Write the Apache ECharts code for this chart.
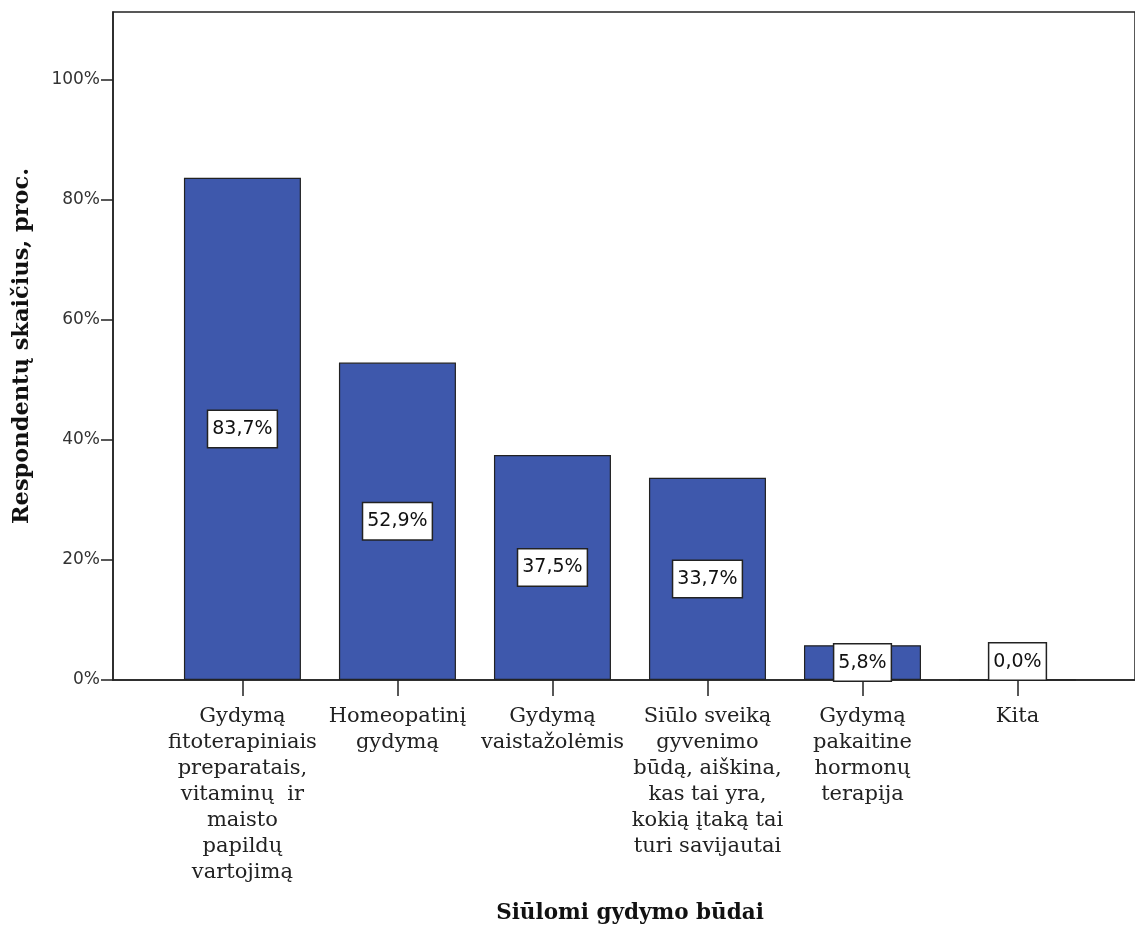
<!DOCTYPE html>
<html>
<head>
<meta charset="utf-8">
<script src="https://cdn.jsdelivr.net/npm/echarts@6/dist/echarts.min.js"></script>
<style>
html,body{margin:0;padding:0;background:#fff;}
#chart{width:1135px;height:930px;}
</style>
</head>
<body>
<div id="chart"></div>
<script>
const categories = [
  "Gydymą\nfitoterapiniais\npreparatais,\nvitaminų  ir\nmaisto\npapildų\nvartojimą",
  "Homeopatinį\ngydymą",
  "Gydymą\nvaistažolėmis",
  "Siūlo sveiką\ngyvenimo\nbūdą, aiškina,\nkas tai yra,\nkokią įtaką tai\nturi savijautai",
  "Gydymą\npakaitine\nhormonų\nterapija",
  "Kita"
];
const values = [83.7, 52.9, 37.5, 33.7, 5.8, 0.0];
const yTicks = [0, 20, 40, 60, 80, 100];
const yTitle = "Respondentų skaičius, proc.";
const xTitle = "Siūlomi gydymo būdai";

const xIdx = categories.map((c, i) => i);
const chart = echarts.init(document.getElementById('chart'), null, {renderer: 'canvas'});
const data = values.map((v, i) => ({
  value: [i, v],
  label: v === 0 ? {position: 'top', distance: 0} : {position: 'inside'}
}));

chart.setOption({
  animation: false,
  backgroundColor: '#fff',
  grid: {
    left: 113, top: 12, right: -2, bottom: 250,
    show: true, borderColor: '#222', borderWidth: 1.5, backgroundColor: '#fff'
  },
  xAxis: {
    type: 'value',
    min: -0.835, max: 5.758,
    splitLine: {show: false},
    axisLine: {show: true, onZero: false, lineStyle: {color: '#222', width: 1.5}},
    axisTick: {show: true, length: 16, inside: false, customValues: xIdx, lineStyle: {color: '#222', width: 1.5}},
    axisLabel: {
      customValues: xIdx,
      margin: 24,
      formatter: v => categories[Math.round(v)],
      fontFamily: 'DejaVu Serif', fontSize: 21, lineHeight: 26,
      color: '#222', align: 'center', verticalAlign: 'top'
    },
    name: xTitle,
    nameLocation: 'middle',
    nameGap: 222,
    nameTextStyle: {fontFamily: 'DejaVu Serif', fontWeight: 'bold', fontSize: 21.5, color: '#111', verticalAlign: 'top', padding: [0, 0, 0, 12]}
  },
  yAxis: {
    type: 'value',
    min: 0, max: 111.33,
    splitLine: {show: false},
    axisLine: {show: true, onZero: false, lineStyle: {color: '#222', width: 1.5}},
    axisTick: {show: true, length: 12, customValues: yTicks, lineStyle: {color: '#222', width: 1.5}},
    axisLabel: {
      customValues: yTicks,
      margin: 13,
      formatter: v => v + '%',
      fontFamily: 'DejaVu Sans', fontSize: 17, color: '#333'
    },
    name: yTitle,
    nameLocation: 'middle',
    nameGap: 79,
    nameTextStyle: {fontFamily: 'DejaVu Serif', fontWeight: 'bold', fontSize: 22.5, color: '#111'}
  },
  series: [{
    type: 'bar',
    data: data,
    barWidth: 117,
    itemStyle: {color: '#3e58ac', borderColor: '#222', borderWidth: 1.2},
    label: {
      show: true,
      formatter: p => p.value[1].toFixed(1).replace('.', ',') + '%',
      fontFamily: 'DejaVu Sans', fontSize: 19, lineHeight: 22, color: '#111',
      backgroundColor: '#fff', borderColor: '#222', borderWidth: 1.5,
      padding: [8, 4, 6, 4]
    }
  }]
});
</script>
</body>
</html>
